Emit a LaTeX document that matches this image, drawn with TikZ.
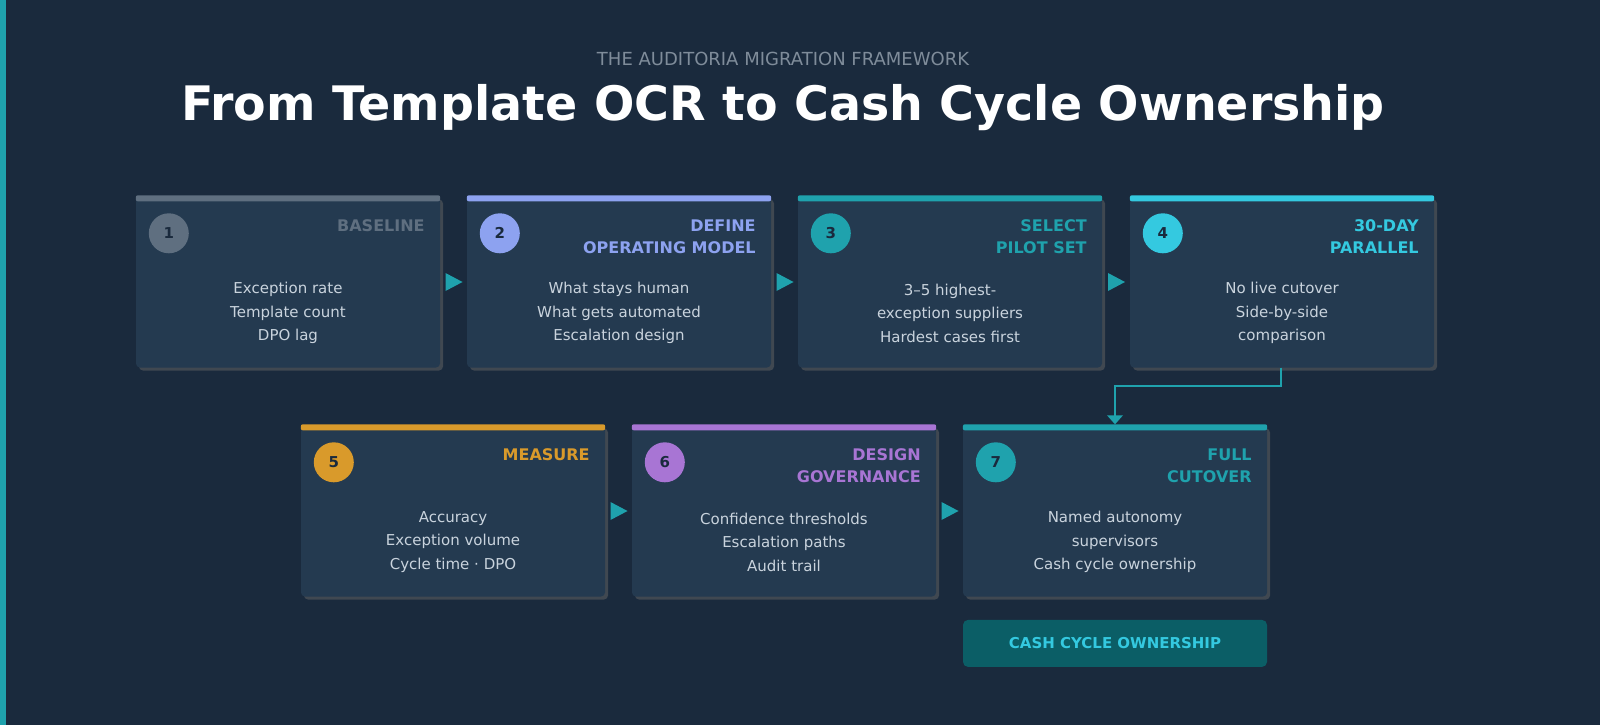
\documentclass[tikz,border=0pt]{standalone}
\usepackage{fontspec}
\setmainfont{DejaVu Sans}
\usetikzlibrary{positioning, calc}
\definecolor{bgdark}{HTML}{1A2A3D}
\definecolor{cardfill}{HTML}{243A50}
\definecolor{bodytext}{HTML}{C9D3DD}
\definecolor{cGrey}{HTML}{5F6F80}
\definecolor{cBlue}{HTML}{8DA2F0}
\definecolor{cTeal}{HTML}{1FA2AD}
\definecolor{cCyan}{HTML}{34C9E0}
\definecolor{cGold}{HTML}{D99A2B}
\definecolor{cPurple}{HTML}{A875D4}
\definecolor{bannerfill}{HTML}{0B5E66}
\tikzset{
    card/.style={fill=cardfill, rounded corners=4pt, minimum width=304pt, minimum height=171pt, inner sep=0pt},
    shade/.style={fill=black!60, rounded corners=4pt, minimum width=304pt, minimum height=171pt, opacity=0.5},
    badge/.style={circle, minimum size=40pt, inner sep=0pt, font=\bfseries\fontsize{15}{15}\selectfont, text=bgdark},
    steptitle/.style={anchor=north east, align=right, font=\bfseries\fontsize{16}{22}\selectfont},
    stepbody/.style={align=center, text=bodytext, font=\fontsize{15}{23.5}\selectfont},
    flow/.style={cTeal, line width=2pt},
}
% one card: name, colour, centre, number, title, body
\newcommand{\stepcard}[6]{
    \coordinate (#1c) at (#3);
    \node[shade] at ([shift={(3pt,-3pt)}]#1c) {};
    \node[card] (#1) at (#1c) {};
    \fill[#2, rounded corners=2pt] ([yshift=1pt]#1.north west) rectangle ([yshift=-5pt]#1.north east);
    \node[badge, fill=#2] (#1n) at ([shift={(33pt,-37pt)}]#1.north west) {#4};
    \node[steptitle, text=#2] (#1t) at ([shift={(-12pt,-20pt)}]#1.north east) {#5};
    \node[stepbody] (#1b) at ([yshift=-31pt]#1.center) {#6};
}
\newcommand{\flowtip}[1]{
    \coordinate (tip) at #1;
    \fill[cTeal] ([xshift=-8pt,yshift=9pt]tip) -- ([xshift=9pt]tip) -- ([xshift=-8pt,yshift=-9pt]tip) -- cycle;
}
\begin{document}
\begin{tikzpicture}[x=1pt, y=-1pt]
    \fill[bgdark] (0,0) rectangle (1600,725);
    \useasboundingbox (0,0) rectangle (1600,725);
    \fill[cTeal] (0,0) rectangle (6,725);

    \node[text=cGrey!80!white, font=\fontsize{18}{18}\selectfont] (sub) at (783,59) {THE AUDITORIA MIGRATION FRAMEWORK};
    \node[text=white, font=\bfseries\fontsize{47.5}{47.5}\selectfont] (title) at (783,108) {From Template OCR to Cash Cycle Ownership};

    \stepcard{s1}{cGrey}{288,282}{1}{BASELINE}{Exception rate\\Template count\\DPO lag}
    \stepcard{s2}{cBlue}{619,282}{2}{DEFINE\\OPERATING MODEL}{What stays human\\What gets automated\\Escalation design}
    \stepcard{s3}{cTeal}{950,282}{3}{SELECT\\PILOT SET}{3--5 highest-\\exception suppliers\\Hardest cases first}
    \stepcard{s4}{cCyan}{1282,282}{4}{30-DAY\\PARALLEL}{No live cutover\\Side-by-side\\comparison}
    \stepcard{s5}{cGold}{453,511}{5}{MEASURE}{Accuracy\\Exception volume\\Cycle time · DPO}
    \stepcard{s6}{cPurple}{784,511}{6}{DESIGN\\GOVERNANCE}{Confidence thresholds\\Escalation paths\\Audit trail}
    \stepcard{s7}{cTeal}{1115,511}{7}{FULL\\CUTOVER}{Named autonomy\\supervisors\\Cash cycle ownership}

    % arrows between cards
    \flowtip{($(s1.east)!0.5!(s2.west)$)}
    \flowtip{($(s2.east)!0.5!(s3.west)$)}
    \flowtip{($(s3.east)!0.5!(s4.west)$)}
    \flowtip{($(s5.east)!0.5!(s6.west)$)}
    \flowtip{($(s6.east)!0.5!(s7.west)$)}

    % wrap from step 4 down to step 7
    \coordinate (wrapA) at ([xshift=-1pt]s4.south);
    \coordinate (wrapB) at ([yshift=-18pt]wrapA);
    \coordinate (wrapC) at (s7.north |- wrapB);
    \draw[flow] (wrapA) -- (wrapB) -- (wrapC) -- ([yshift=8pt]s7.north);
    \fill[cTeal] ([xshift=-8pt,yshift=10pt]s7.north) -- ([xshift=8pt,yshift=10pt]s7.north) -- ([yshift=1pt]s7.north) -- cycle;

    \node[fill=bannerfill, rounded corners=5pt, minimum width=304pt, minimum height=47pt, text=cCyan, font=\bfseries\fontsize{15}{15}\selectfont, below=23pt of s7] (own) {CASH CYCLE OWNERSHIP};
\end{tikzpicture}
\end{document}
